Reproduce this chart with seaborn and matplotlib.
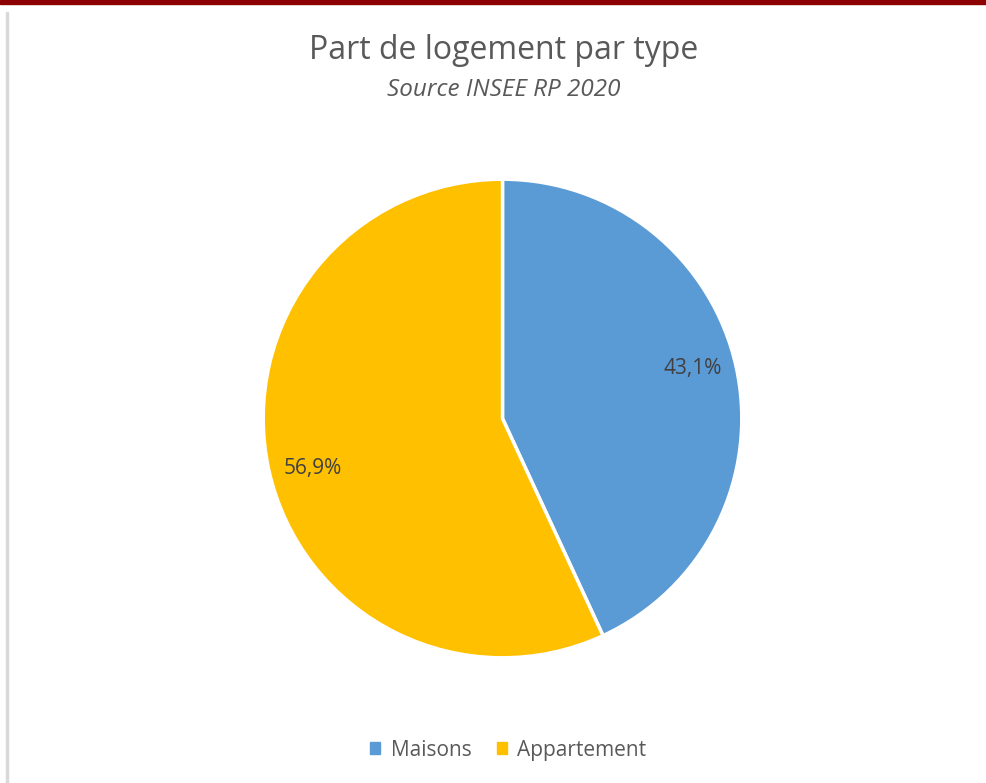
import matplotlib
matplotlib.use("Agg")
import matplotlib.pyplot as plt
import matplotlib.patches as mpatches
import numpy as np
import seaborn as sns

categories = ["Maisons", "Appartement"]
shares = [43.1, 56.9]
colors = ["#5B9BD5", "#FFC000"]

sns.set_theme(style="white")
plt.rcParams["font.family"] = ["Open Sans", "DejaVu Sans"]

fig = plt.figure(figsize=(9.87, 7.83), dpi=100)
fig.patch.set_facecolor("white")

# top dark red band and left grey border
fig.patches.append(mpatches.Rectangle((0, 1 - 4 / 783), 1, 4 / 783, transform=fig.transFigure,
                                      color="#8B0000", zorder=0))
fig.patches.append(mpatches.Rectangle((6 / 987, 0), 2 / 987, 1 - 12 / 783, transform=fig.transFigure,
                                      color="#D9D9D9", zorder=0))

ax = fig.add_axes([262 / 987, 124 / 783, 481 / 987, 481 / 783])
wedges, texts = ax.pie(shares, colors=colors, startangle=90, counterclock=False,
                       wedgeprops=dict(edgecolor="white", linewidth=2.5))
for w, v in zip(wedges, shares):
    # label sits slightly past the mid angle, like the original
    ang = np.deg2rad((w.theta1 + w.theta2) / 2 + 2.2)
    ax.text(0.82 * np.cos(ang), 0.82 * np.sin(ang), f"{v:.1f}%".replace(".", ","),
            ha="center", va="center", fontsize=15, color="#404040")
ax.set_xlim(-1.005, 1.005)
ax.set_ylim(-1.005, 1.005)
ax.set_aspect("equal")

fig.text(0.51, 0.935, "Part de logement par type", ha="center", va="center",
         fontsize=23, color="#595959")
fig.text(0.51, 0.885, "Source INSEE RP 2020", ha="center", va="center",
         fontsize=17.5, style="italic", color="#595959")

handles = [mpatches.Patch(color=c, label=l) for c, l in zip(colors, categories)]
fig.legend(handles=handles, loc="center", bbox_to_anchor=(0.515, 0.042), ncol=2, frameon=False,
           fontsize=15, handlelength=0.5, handleheight=0.5, handletextpad=0.5,
           columnspacing=1.2, labelcolor="#595959")

fig.savefig("out.png", dpi=100)
